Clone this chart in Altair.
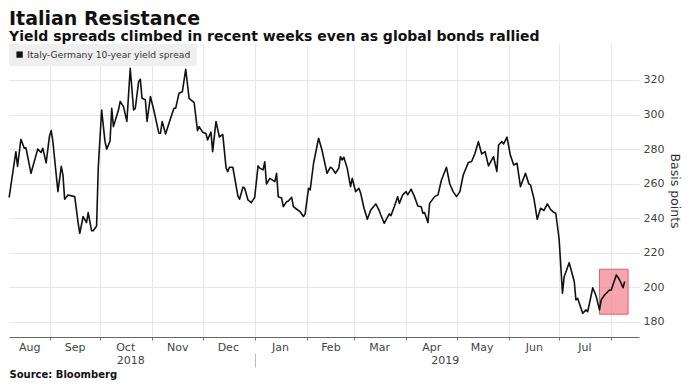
import altair as alt
import pandas as pd

FONT = "DejaVu Sans"

series_name = "Italy-Germany 10-year yield spread"

dates = [
    "2018-08-08", "2018-08-12", "2018-08-13", "2018-08-15", "2018-08-17", "2018-08-18", "2018-08-21",
    "2018-08-25", "2018-08-27", "2018-08-28", "2018-08-30",
    "2018-09-01", "2018-09-02", "2018-09-03", "2018-09-06", "2018-09-08", "2018-09-09", "2018-09-10",
    "2018-09-12", "2018-09-16", "2018-09-18", "2018-09-19", "2018-09-21", "2018-09-23", "2018-09-24",
    "2018-09-26", "2018-09-27", "2018-09-29", "2018-09-30",
    "2018-10-02", "2018-10-04", "2018-10-05", "2018-10-07", "2018-10-08", "2018-10-09", "2018-10-12",
    "2018-10-13", "2018-10-15", "2018-10-17", "2018-10-19", "2018-10-21", "2018-10-22", "2018-10-24",
    "2018-10-25", "2018-10-26", "2018-10-28", "2018-10-29", "2018-10-31",
    "2018-11-02", "2018-11-05", "2018-11-06", "2018-11-07", "2018-11-09", "2018-11-12", "2018-11-14",
    "2018-11-15", "2018-11-17", "2018-11-19", "2018-11-21", "2018-11-23", "2018-11-26", "2018-11-28",
    "2018-11-29",
    "2018-12-01", "2018-12-03", "2018-12-04", "2018-12-06", "2018-12-07", "2018-12-09", "2018-12-11",
    "2018-12-13", "2018-12-15", "2018-12-16", "2018-12-17", "2018-12-19", "2018-12-22", "2018-12-23",
    "2018-12-25", "2018-12-26", "2018-12-28", "2018-12-30",
    "2019-01-01", "2019-01-03", "2019-01-04", "2019-01-06", "2019-01-07", "2019-01-08", "2019-01-10",
    "2019-01-13", "2019-01-14", "2019-01-15", "2019-01-17", "2019-01-18", "2019-01-20", "2019-01-21",
    "2019-01-23", "2019-01-24", "2019-01-26", "2019-01-28", "2019-01-30", "2019-01-31",
    "2019-02-02", "2019-02-03", "2019-02-05", "2019-02-07", "2019-02-08", "2019-02-10", "2019-02-13",
    "2019-02-15", "2019-02-16", "2019-02-18", "2019-02-20", "2019-02-21", "2019-02-22", "2019-02-23",
    "2019-02-25", "2019-02-27", "2019-02-28",
    "2019-03-02", "2019-03-04", "2019-03-05", "2019-03-07", "2019-03-09", "2019-03-11", "2019-03-14",
    "2019-03-16", "2019-03-17", "2019-03-19", "2019-03-22", "2019-03-23", "2019-03-25", "2019-03-27",
    "2019-03-28", "2019-03-30",
    "2019-04-01", "2019-04-02", "2019-04-04", "2019-04-06", "2019-04-08", "2019-04-10", "2019-04-11",
    "2019-04-12", "2019-04-14", "2019-04-15", "2019-04-18", "2019-04-20", "2019-04-22", "2019-04-23",
    "2019-04-25", "2019-04-27", "2019-04-29",
    "2019-05-01", "2019-05-03", "2019-05-05", "2019-05-08", "2019-05-10", "2019-05-12", "2019-05-14",
    "2019-05-16", "2019-05-18", "2019-05-20", "2019-05-23", "2019-05-25", "2019-05-26", "2019-05-28",
    "2019-05-29", "2019-05-31",
    "2019-06-02", "2019-06-04", "2019-06-06", "2019-06-08", "2019-06-11", "2019-06-13", "2019-06-14",
    "2019-06-16", "2019-06-18", "2019-06-20", "2019-06-22", "2019-06-24", "2019-06-26", "2019-06-28",
    "2019-06-29",
    "2019-07-01", "2019-07-03", "2019-07-04", "2019-07-07", "2019-07-10", "2019-07-11", "2019-07-12",
    "2019-07-15", "2019-07-17", "2019-07-18", "2019-07-21", "2019-07-23", "2019-07-25", "2019-07-26",
    "2019-07-28", "2019-07-31",
    "2019-08-01", "2019-08-02", "2019-08-04", "2019-08-06", "2019-08-08", "2019-08-09",
]

spread = [
    252, 278.5, 270, 285.7, 280.5, 280.7, 266, 280, 278, 280.5, 272,
    287.6, 290.7, 284.4, 255.4, 270, 265, 251, 253.5, 252.5, 237.5, 231.3, 241, 237.5, 243.3,
    232.8, 232.8, 235.5, 269.5,
    302.6, 284.3, 280, 284.7, 303.6, 293, 302.6, 307.5, 304.6, 296, 326.8, 302.6, 303.5, 319,
    320.4, 309.4, 308.5, 296, 310.4,
    302.6, 289.2, 289.2, 296, 288.8, 297.8, 303.6, 303.6, 312.3, 313.2, 326.2, 309.4, 306.9, 290.7,
    293,
    289.8, 289, 285.3, 289.8, 278.5, 296, 287, 288.5, 269, 267, 269.5, 269.5, 252.9, 251,
    258, 257.5, 250.6, 249,
    252.1, 270.3, 269, 268, 272.7, 259.8, 263.1, 261.2, 266, 252.5, 251.7, 246.7, 249.6, 250,
    252.1, 246.7, 245.2, 243.8, 241, 242.5,
    257.3, 256.4, 271.8, 281.5, 286.3, 279.5, 266, 269.5, 269, 266, 269, 275.6, 273.7, 275.3,
    269, 258.3, 263.1,
    255.4, 257.3, 254.5, 245.8, 239.4, 244.8, 248.3, 244.5, 241.9, 237.1, 242.5, 241.5, 246.7, 252.5,
    248.6, 253.5,
    255.4, 253.5, 256.8, 252.5, 247.1, 246.7, 242.9, 243.3, 237.5, 248.6, 252.5, 253.5, 262, 264.4,
    269.5, 259.8, 255.4,
    252.5, 255.4, 265, 272.2, 272.8, 277.6, 284.3, 277.2, 278.5, 270.3, 275.6, 267, 282.4, 284.3,
    283, 286.9,
    276.6, 270.8, 271.8, 258.3, 266, 259.8, 259.3, 251.5, 239.4, 245.8, 244.5, 248.3, 245, 243.3,
    242.9,
    228, 196.6, 206.2, 214.3, 203.4, 192.7, 193.7, 185, 187, 186, 199.8, 195, 187, 192.7,
    195.6, 198.5,
    198.5, 201.4, 207.2, 204.3, 199.8, 203.4,
]

# highlight box
box_start = ["2019-07-25"]
box_end = ["2019-08-11"]
box_low = [184.5]
box_high = [210.5]

# axis positions
grid_months = ["2018-09-01", "2018-10-01", "2018-11-01", "2018-12-01", "2019-01-01", "2019-02-01",
               "2019-03-01", "2019-04-01", "2019-05-01", "2019-06-01", "2019-07-01", "2019-08-01"]
label_months = ["2018-08-20", "2018-09-16", "2018-10-16", "2018-11-16", "2018-12-16", "2019-01-16",
                "2019-02-15", "2019-03-16", "2019-04-16", "2019-05-16", "2019-06-16", "2019-07-16"]
year_marks = ["2018-10-19", "2019-01-01", "2019-04-24"]
y_ticks = [180, 200, 220, 240, 260, 280, 300, 320]
y_domain = [171.3, 340.8]


def dt(s, hours=0):
    y, m, d = s.split("-")
    return alt.DateTime(year=int(y), month=int(m), date=int(d), hours=hours, utc=True)


x_domain = [dt("2018-08-07", 22), dt("2019-08-17", 12)]

df = pd.DataFrame({"date": dates, "spread": spread, "series": [series_name] * len(dates)})
box = pd.DataFrame({"start": box_start, "end": box_end, "low": box_low, "high": box_high})

xscale = alt.Scale(type="utc", domain=x_domain)
yscale = alt.Scale(domain=y_domain, nice=False, zero=False)


def y_axis():
    return alt.Axis(orient="right", values=y_ticks, grid=True, gridColor="#e6e6e6",
                    domain=False, ticks=False, labelPadding=4, labelFont=FONT,
                    labelFontSize=11, labelColor="#444", title="Basis points",
                    titleFont=FONT, titleFontSize=12.5, titleFontWeight="normal",
                    titleColor="#333", titlePadding=4, titleAngle=90)


# Layer 1: box fill, carries month label axis
box_fill = alt.Chart(box).mark_rect(fill="#f27d8c", fillOpacity=0.7, strokeWidth=0).encode(
    x=alt.X("start:T", scale=xscale,
            axis=alt.Axis(orient="bottom", values=[dt(v) for v in label_months], format="%b",
                          grid=False, ticks=False, tickSize=0, domain=False, labelPadding=4,
                          labelFlush=False, labelOverlap=False, labelFont=FONT, labelFontSize=11,
                          labelColor="#444", title=None)),
    x2="end:T",
    y=alt.Y("low:Q", scale=yscale, axis=y_axis()),
    y2="high:Q",
)

# Layer 2: box outline, carries year axis + source note
box_edge = alt.Chart(box).mark_rect(fillOpacity=0, stroke="#e0606e", strokeWidth=1).encode(
    x=alt.X("start:T", scale=xscale,
            axis=alt.Axis(orient="bottom", values=[dt(v) for v in year_marks], format="%Y",
                          labelExpr="utcmonth(datum.value) == 0 ? '' : datum.label",
                          offset=16, domain=False, grid=False, ticks=True, tickSize=14,
                          tickColor="#bbbbbb",
                          tickOpacity={"condition": {"test": "utcmonth(datum.value) == 0", "value": 1},
                                       "value": 0},
                          labelPadding=-13, labelFlush=False, labelOverlap=False, labelFont=FONT,
                          labelFontSize=11, labelColor="#444",
                          title="Source: Bloomberg", titleAnchor="start", titleAlign="left",
                          titleFont=FONT, titleFontSize=10, titleFontWeight="bold",
                          titleColor="#111", titlePadding=2)),
    x2="end:T",
    y=alt.Y("low:Q", scale=yscale, axis=y_axis()),
    y2="high:Q",
)

# Layer 3: the spread line, carries month gridlines, y axis and legend
line = alt.Chart(df).mark_line(strokeWidth=1.6, strokeJoin="round").encode(
    x=alt.X("date:T", scale=xscale,
            axis=alt.Axis(orient="bottom", values=[dt(v) for v in grid_months], grid=True,
                          gridColor="#e6e6e6", labels=False, ticks=True, tickSize=3,
                          tickColor="#777", domain=True, domainColor="#666", title=None)),
    y=alt.Y("spread:Q", scale=yscale, axis=y_axis()),
    color=alt.Color("series:N", scale=alt.Scale(range=["#111111"]),
                    legend=alt.Legend(title=None, orient="top-left", offset=0, fillColor="#efefef",
                                      padding=6, symbolType="square", symbolSize=40,
                                      symbolFillColor="#111111", symbolStrokeWidth=0,
                                      labelFont=FONT, labelFontSize=9.2, labelColor="#333",
                                      labelOffset=3, labelLimit=0)),
)

chart = alt.layer(box_fill, box_edge, line).resolve_axis(x="independent").properties(
    width=630,
    height=293,
    padding={"top": 2, "left": 0, "right": 3, "bottom": 0},
    title=alt.TitleParams(
        text="Italian Resistance",
        subtitle="Yield spreads climbed in recent weeks even as global bonds rallied",
        anchor="start", frame="group", font=FONT, fontSize=19, fontWeight="bold", color="#111",
        subtitleFont=FONT, subtitleFontSize=14, subtitleFontWeight="bold", subtitleColor="#111",
        subtitlePadding=1, offset=0,
    ),
).configure_view(stroke=None)

chart.save("out.html", embed_options={"renderer": "svg", "actions": False})
